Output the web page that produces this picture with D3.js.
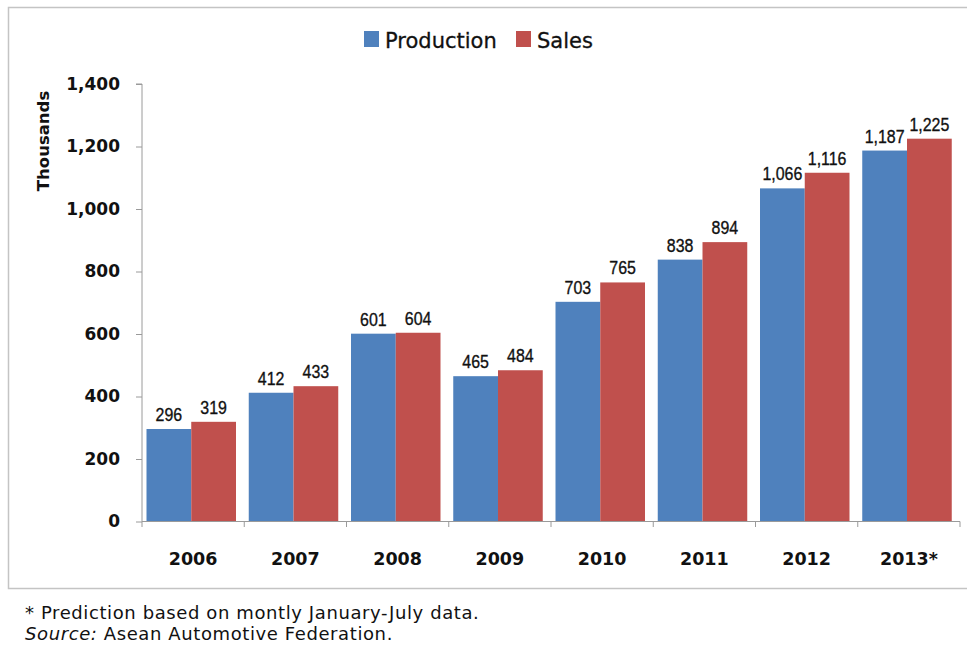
<!DOCTYPE html>
<html><head><meta charset="utf-8">
<script src="https://cdn.jsdelivr.net/npm/d3@7"></script>
<style>body{margin:0;background:#fff;} svg{display:block;}</style>
</head><body>
<script>
const years = ["2006","2007","2008","2009","2010","2011","2012","2013*"];
const production = [296,412,601,465,703,838,1066,1187];
const sales = [319,433,604,484,765,894,1116,1225];
const yTicks = [0,200,400,600,800,1000,1200,1400];
const seriesNames = ["Production","Sales"];
const colors = ["#4F81BD","#C0504D"];

const W=967,H=645;
const svg=d3.select("body").append("svg").attr("width",W).attr("height",H);
svg.append("rect").attr("x",8.5).attr("y",7.5).attr("width",970).attr("height",581)
  .attr("fill","#fff").attr("stroke","#c4c4c4").attr("stroke-width",1.5);

const x0=d3.scaleBand().domain(years).range([142,960]).paddingInner(0).paddingOuter(0);
const x1=d3.scaleBand().domain(seriesNames).range([4.5,94]);
const y=d3.scaleLinear().domain([0,1400]).range([521.5,84]);

const data=years.map((yr,i)=>({year:yr,vals:[production[i],sales[i]]}));

// bars
const g=svg.append("g");
const grp=g.selectAll("g.yr").data(data).join("g").attr("transform",d=>`translate(${x0(d.year)},0)`);
grp.selectAll("rect").data(d=>d.vals.map((v,j)=>({v,j}))).join("rect")
  .attr("x",d=>x1(seriesNames[d.j])).attr("width",x1.bandwidth())
  .attr("y",d=>y(d.v)).attr("height",d=>y(0)-y(d.v)).attr("fill",d=>colors[d.j]);
grp.selectAll("text").data(d=>d.vals.map((v,j)=>({v,j}))).join("text")
  .attr("transform",d=>`translate(${x1(seriesNames[d.j])+x1.bandwidth()/2},${y(d.v)-8}) scale(0.84,1)`)
  .attr("text-anchor","middle")
  .style("font-family","'Liberation Sans',Arial,sans-serif")
  .style("font-size","19px").attr("fill","#111").attr("stroke","#111").attr("stroke-width",0.35)
  .text(d=>d3.format(",")(d.v));

// y axis
const yAxis=svg.append("g").attr("transform","translate(142,0)")
  .call(d3.axisLeft(y).tickValues(yTicks).tickFormat(d3.format(",")).tickSize(6).tickPadding(16));
yAxis.select(".domain").attr("stroke","#9a9a9a").attr("d","M-6,84H0V521.5");
yAxis.selectAll(".tick line").attr("stroke","#9a9a9a");
yAxis.selectAll(".tick text").style("font-family","'DejaVu Sans',Verdana,sans-serif")
  .style("font-size","17px").style("font-weight","bold").attr("fill","#111");

// x axis
const xAxis=svg.append("g").attr("transform","translate(0,521.5)")
  .call(d3.axisBottom(x0).tickSize(0).tickPadding(31));
xAxis.select(".domain").attr("stroke","#9a9a9a").attr("d","M142,0H960");
xAxis.selectAll(".tick text").style("font-family","'DejaVu Sans',Verdana,sans-serif")
  .style("font-size","17.5px").style("font-weight","bold").attr("fill","#111");
svg.append("g").selectAll("line").data(years.concat(["end"])).join("line")
  .attr("x1",(d,i)=>142+i*x0.bandwidth()).attr("x2",(d,i)=>142+i*x0.bandwidth())
  .attr("y1",521.5).attr("y2",527).attr("stroke","#9a9a9a");

// y title
svg.append("text").attr("transform","translate(49,141) rotate(-90)").attr("text-anchor","middle")
  .style("font-family","'DejaVu Sans',Verdana,sans-serif").style("font-size","16.5px")
  .style("font-weight","bold").attr("fill","#111").text("Thousands");

// legend
const legX=[364,516];
const leg=svg.append("g");
seriesNames.forEach((n,i)=>{
  leg.append("rect").attr("x",legX[i]).attr("y",31).attr("width",15).attr("height",16).attr("fill",colors[i]);
  leg.append("text").attr("x",legX[i]+21).attr("y",48)
    .style("font-family","'DejaVu Sans',Verdana,sans-serif").style("font-size","21px")
    .attr("fill","#111").attr("stroke","#111").attr("stroke-width",0.3).text(n);
});

// footnotes
const fn=svg.append("g").style("font-family","'DejaVu Sans',Verdana,sans-serif").style("font-size","18px")
  .style("letter-spacing","0.6px").attr("fill","#111");
fn.append("text").attr("x",25).attr("y",619).text("* Prediction based on montly January-July data.");
const t2=fn.append("text").attr("x",25).attr("y",640);
t2.append("tspan").style("font-style","italic").text("Source:");
t2.append("tspan").text(" Asean Automotive Federation.");
</script>
</body></html>
